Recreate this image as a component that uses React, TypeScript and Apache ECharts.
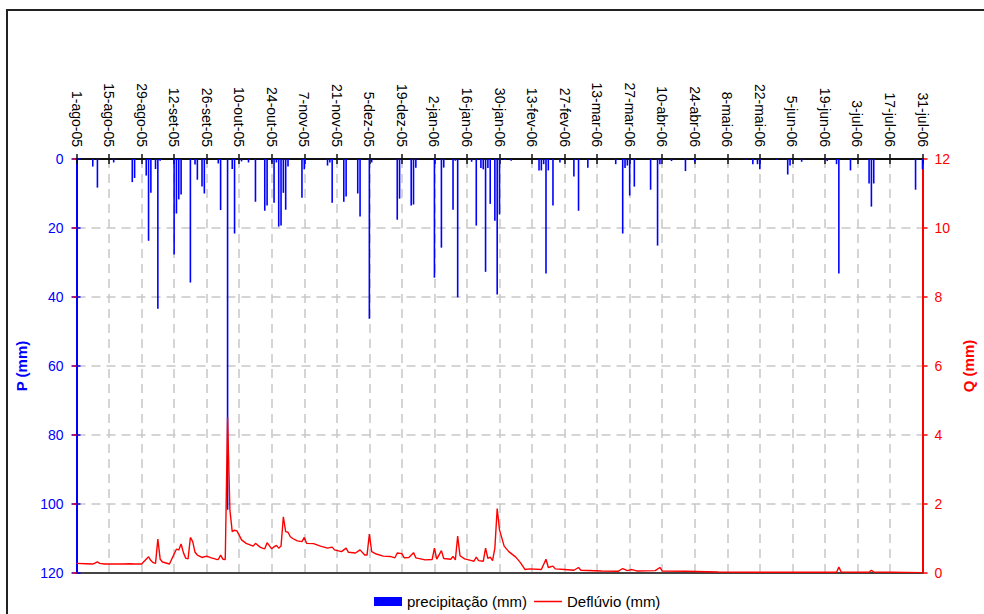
import React, { useEffect, useRef } from "react";
import * as echarts from "echarts";

const tickLabels = [
  "1-ago-05", "15-ago-05", "29-ago-05", "12-set-05", "26-set-05", "10-out-05",
  "24-out-05", "7-nov-05", "21-nov-05", "5-dez-05", "19-dez-05", "2-jan-06",
  "16-jan-06", "30-jan-06", "13-fev-06", "27-fev-06", "13-mar-06", "27-mar-06",
  "10-abr-06", "24-abr-06", "8-mai-06", "22-mai-06", "5-jun-06", "19-jun-06",
  "3-jul-06", "17-jul-06", "31-jul-06",
];

// day index (0 = 1-ago-05) of each rainy day and its precipitation (mm)
const precipDays = [
  7, 9, 16, 24, 25, 30, 31, 32, 34, 35, 36, 42, 43, 44, 45, 49, 51, 52, 54, 55,
  61, 62, 65, 67, 68, 71, 74, 77, 81, 82, 84, 85, 86, 87, 88, 89, 90, 91, 97, 98,
  108, 109, 110, 115, 116, 121, 122, 126, 127, 138, 139, 144, 145, 146, 154, 157, 158, 162, 163, 164,
  170, 172, 174, 175, 176, 177, 178, 180, 181, 182, 184, 187, 199, 200, 201, 202, 203, 205, 208, 214,
  216, 220, 232, 235, 236, 237, 238, 240, 247, 250, 251, 256, 262, 266, 288, 291, 293, 294, 301, 306,
  307, 312, 323, 327, 328, 333, 341, 342, 343, 361, 364,
];
const precipValues = [
  2.2, 8.3, 1.0, 6.7, 5.5, 4.8, 23.7, 9.8, 2.9, 43.4, 0.5, 27.7, 15.8, 11.7, 10.3, 35.8, 1.6, 6.0, 8.0, 10.0,
  1.3, 14.8, 101.7, 2.9, 21.6, 0.7, 1.0, 12.4, 15.0, 13.5, 1.0, 12.7, 1.0, 19.6, 19.3, 9.8, 14.7, 2.2, 11.2, 3.0,
  1.9, 1.0, 12.7, 12.4, 10.9, 10.0, 16.7, 46.3, 1.0, 17.6, 11.5, 13.5, 13.2, 2.5, 34.4, 25.7, 2.5, 14.7, 0.5, 40.1,
  0.8, 19.3, 2.6, 3.0, 32.7, 2.6, 13.0, 17.9, 39.3, 16.1, 0.3, 0.5, 3.3, 3.3, 1.5, 33.2, 3.3, 13.5, 1.0, 5.1,
  15.0, 2.5, 1.5, 21.6, 2.6, 1.9, 10.6, 8.0, 8.9, 25.1, 1.5, 0.6, 3.5, 0.8, 0.3, 1.5, 1.5, 3.0, 0.3, 4.5,
  1.9, 0.8, 0.6, 1.5, 33.2, 3.3, 7.1, 13.8, 7.1, 8.9, 3.0,
];

// runoff (Deflúvio, mm) read at these day indices
const flowDays = [
  0, 4, 7, 9, 10, 12, 20, 23, 25, 28, 31, 32, 33, 34, 35, 36, 37, 40, 42, 43,
  44, 45, 46, 47, 48, 49, 50, 51, 52, 54, 56, 58, 60, 61, 62, 63, 64, 65, 66, 67,
  68, 69, 70, 71, 73, 76, 77, 79, 80, 81, 82, 84, 85, 86, 87, 88, 89, 90, 91, 92,
  93, 95, 97, 98, 99, 102, 105, 108, 110, 111, 114, 116, 117, 120, 122, 124, 125, 126, 127, 129,
  132, 135, 137, 138, 140, 141, 143, 145, 146, 150, 153, 154, 155, 157, 158, 161, 162, 163, 164, 165,
  167, 170, 171, 172, 173, 175, 176, 177, 178, 179, 180, 181, 182, 184, 186, 189, 191, 193, 195, 200,
  202, 203, 205, 206, 210, 214, 216, 217, 226, 233, 235, 237, 239, 241, 249, 251, 252, 262, 276, 290,
  327, 328, 329, 341, 342, 343, 364,
];
const flowValues = [
  0.28, 0.27, 0.26, 0.32, 0.28, 0.26, 0.26, 0.27, 0.26, 0.26, 0.47, 0.36, 0.3, 0.28, 0.98, 0.4, 0.32, 0.26, 0.55, 0.69,
  0.67, 0.84, 0.59, 0.43, 0.41, 1.03, 0.91, 0.6, 0.52, 0.45, 0.49, 0.44, 0.4, 0.39, 0.52, 0.4, 0.39, 4.51, 1.83, 1.2,
  1.24, 1.22, 1.1, 0.96, 0.86, 0.78, 0.86, 0.75, 0.72, 0.7, 0.88, 0.7, 0.76, 0.8, 0.72, 0.78, 1.63, 1.2, 1.18, 1.05,
  1.0, 0.93, 0.91, 1.03, 0.86, 0.85, 0.78, 0.72, 0.75, 0.67, 0.62, 0.72, 0.6, 0.58, 0.67, 0.52, 0.52, 1.13, 0.62, 0.55,
  0.49, 0.48, 0.44, 0.58, 0.56, 0.44, 0.45, 0.59, 0.44, 0.38, 0.39, 0.72, 0.4, 0.65, 0.42, 0.4, 0.48, 0.38, 1.07, 0.5,
  0.41, 0.36, 0.34, 0.46, 0.36, 0.34, 0.72, 0.42, 0.46, 0.36, 0.72, 1.87, 1.25, 0.78, 0.62, 0.46, 0.3, 0.1, 0.12, 0.1,
  0.4, 0.16, 0.2, 0.12, 0.1, 0.08, 0.16, 0.08, 0.06, 0.05, 0.13, 0.07, 0.1, 0.06, 0.07, 0.16, 0.06, 0.05, 0.03, 0.02,
  0.02, 0.17, 0.03, 0.02, 0.08, 0.03, 0.01,
];

const FONT = "'Liberation Sans', Arial, sans-serif";
const LINE_ICON = "path://M0,0L0.01,0M0,9L0.01,9M0,3.8L28,3.8L28,5.2L0,5.2Z";

export default function App() {
  const ref = useRef<HTMLDivElement>(null);

  useEffect(() => {
    if (!ref.current) return;
    const chart = echarts.init(ref.current, null, { renderer: "svg" });
    const precipData = precipDays.map((d, i) => [d, precipValues[i]]);
    const flowData = flowDays.map((d, i) => [d, flowValues[i]]);
    const lastDay = (tickLabels.length - 1) * 14;

    const gridLine = { show: true, lineStyle: { color: "#c8c8c8", width: 1.5, type: [9, 6] as any } };

    chart.setOption({
      animation: false,
      backgroundColor: "#ffffff",
      textStyle: { fontFamily: FONT },
      grid: { left: 76.5, right: 58, top: 159, bottom: 41, containLabel: false },
      graphic: [
        {
          type: "rect",
          silent: true,
          shape: { x: 7, y: 10, width: 1000, height: 640 },
          style: { fill: "none", stroke: "#222222", lineWidth: 2 },
        },
      ],
      legend: {
        left: 369,
        top: 589,
        itemWidth: 28,
        itemHeight: 9,
        itemGap: 7,
        textStyle: { fontFamily: FONT, fontSize: 15, color: "#000" },
        data: [
          { name: "precipitação (mm)", icon: "rect" },
          { name: "Deflúvio (mm)", icon: LINE_ICON, itemStyle: { color: "#ff0000" } },
        ],
      },
      xAxis: [
        {
          type: "value",
          position: "top",
          min: 0,
          max: lastDay,
          interval: 14,
          axisLine: { show: true, onZero: false, lineStyle: { color: "#111", width: 2 } },
          axisTick: { show: true, length: 5, lineStyle: { color: "#111", width: 1.5 } },
          axisLabel: {
            rotate: 90,
            margin: 12,
            fontFamily: FONT,
            fontSize: 14,
            color: "#000",
            formatter: (v: number) => tickLabels[Math.round(v / 14)] ?? "",
          },
          splitLine: gridLine,
        },
        {
          type: "value",
          position: "top",
          min: 0,
          max: lastDay,
          interval: 14,
          axisLine: { show: false },
          axisTick: { show: true, inside: true, length: 5, lineStyle: { color: "#111", width: 1.5 } },
          axisLabel: { show: false },
          splitLine: { show: false },
        },
        {
          type: "value",
          position: "bottom",
          min: 0,
          max: lastDay,
          axisLine: { show: true, onZero: false, lineStyle: { color: "#444", width: 2 } },
          axisTick: { show: false },
          axisLabel: { show: false },
          splitLine: { show: false },
        },
      ],
      yAxis: [
        {
          type: "value",
          position: "left",
          inverse: true,
          min: 0,
          max: 120,
          interval: 20,
          name: "P (mm)",
          nameLocation: "middle",
          nameRotate: 90,
          nameGap: 46,
          nameTextStyle: { color: "#0000ff", fontWeight: "bold", fontSize: 15, fontFamily: FONT },
          axisLine: { show: true, onZero: false, lineStyle: { color: "#0000ff", width: 2 } },
          axisTick: { show: true, length: 5, lineStyle: { color: "#0000ff", width: 1.5 } },
          axisLabel: { color: "#0000ff", fontSize: 14, margin: 13, fontFamily: FONT },
          splitLine: gridLine,
        },
        {
          type: "value",
          position: "right",
          min: 0,
          max: 12,
          interval: 2,
          name: "Q (mm)",
          nameLocation: "middle",
          nameRotate: 90,
          nameGap: 38,
          nameTextStyle: { color: "#ff0000", fontWeight: "bold", fontSize: 15, fontFamily: FONT },
          axisLine: { show: true, onZero: false, lineStyle: { color: "#ff0000", width: 2 } },
          axisTick: { show: true, length: 5, lineStyle: { color: "#ff0000", width: 1.5 } },
          axisLabel: { color: "#ff0000", fontSize: 14, margin: 12, fontFamily: FONT },
          splitLine: { show: false },
        },
        {
          type: "value",
          position: "left",
          inverse: true,
          min: 0,
          max: 120,
          interval: 20,
          axisLine: { show: false },
          axisTick: { show: true, inside: true, length: 4, lineStyle: { color: "#0000ff", width: 1.5 } },
          axisLabel: { show: false },
          splitLine: { show: false },
        },
        {
          type: "value",
          position: "right",
          min: 0,
          max: 12,
          interval: 2,
          axisLine: { show: false },
          axisTick: { show: true, inside: true, length: 4, lineStyle: { color: "#ff0000", width: 1.5 } },
          axisLabel: { show: false },
          splitLine: { show: false },
        },
      ],
      series: [
        {
          name: "precipitação (mm)",
          type: "bar",
          xAxisIndex: 0,
          yAxisIndex: 0,
          barWidth: 1.6,
          itemStyle: { color: "#0000ff" },
          data: precipData,
        },
        {
          name: "Deflúvio (mm)",
          type: "line",
          xAxisIndex: 0,
          yAxisIndex: 1,
          symbol: "none",
          showSymbol: false,
          lineStyle: { color: "#ff0000", width: 1.4 },
          itemStyle: { color: "#ff0000" },
          data: flowData,
        },
      ],
    });

    return () => chart.dispose();
  }, []);

  return (
    <div
      ref={ref}
      style={{ position: "fixed", left: 0, top: 0, width: 984, height: 614, background: "#fff" }}
    />
  );
}
